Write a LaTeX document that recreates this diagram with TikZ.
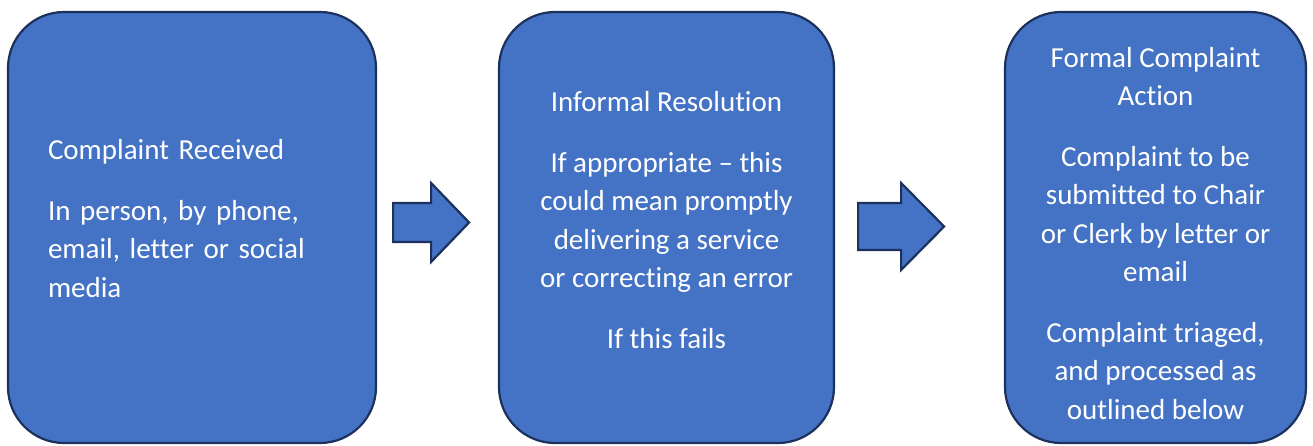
\documentclass[tikz,border=0pt]{standalone}
\usepackage{fontspec}
\setmainfont{Carlito}[Ligatures={TeX,NoCommon}]
\usepackage{tikz}
\usetikzlibrary{positioning,calc}
\definecolor{boxfill}{RGB}{68,114,196}
\definecolor{boxline}{RGB}{28,50,92}

\tikzset{
  stepbox/.style={draw=boxline, line width=2.2pt, fill=boxfill,
    rounded corners=56pt, minimum height=431pt},
  steptext/.style={text=white, inner sep=0pt,
    font=\fontsize{29}{38.5}\selectfont},
  flowarrow/.style={draw=boxline, line width=2.2pt, fill=boxfill, line join=miter}
}

\begin{document}
\begin{tikzpicture}[x=1pt, y=-1pt]
        \useasboundingbox (0,0) rectangle (1313,445);
        % the three stages
        \node[stepbox, minimum width=368pt] (recv) at (192,227.5) {};
        \node[stepbox, minimum width=335pt] (informal) at (666.5,227.5) {};
        \node[stepbox, minimum width=301pt] (formal) at (1155.5,227.5) {};

        \node[steptext, align=left, text width=288pt] (recvtxt)
          at ([yshift=9pt]recv.center) {
          Complaint Received\\[22pt]
          In person, by phone,\\
          email, letter or social\\
          media
        };
        \node[steptext, align=center] (informaltxt)
          at ([yshift=7.5pt]informal.center) {
          Informal Resolution\\[22pt]
          If appropriate -- this\\
          could mean promptly\\
          delivering a service\\
          or correcting an error\\[22pt]
          If this fails
        };
        \node[steptext, align=center] (formaltxt)
          at ([yshift=-6pt]formal.center) {
          Formal Complaint\\
          Action\\[22pt]
          Complaint to be\\
          submitted to Chair\\
          or Clerk by letter or\\
          email\\[22pt]
          Complaint triaged,\\
          and processed as\\
          outlined below
        };

        % block arrows between the stages
        \coordinate (a1) at ($(recv.east)+(16,-5)$);
        \draw[flowarrow] (a1) ++(0,-19.5) -- ++(38,0) -- ++(0,-20)
          -- ++(38,39.5) -- ++(-38,39.5) -- ++(0,-20) -- ++(-38,0) -- cycle;
        \coordinate (a2) at ($(informal.east)+(23,-1)$);
        \draw[flowarrow] (a2) ++(0,-23.5) -- ++(43,0) -- ++(0,-20)
          -- ++(43,43.5) -- ++(-43,43.5) -- ++(0,-20) -- ++(-43,0) -- cycle;
\end{tikzpicture}
\end{document}
